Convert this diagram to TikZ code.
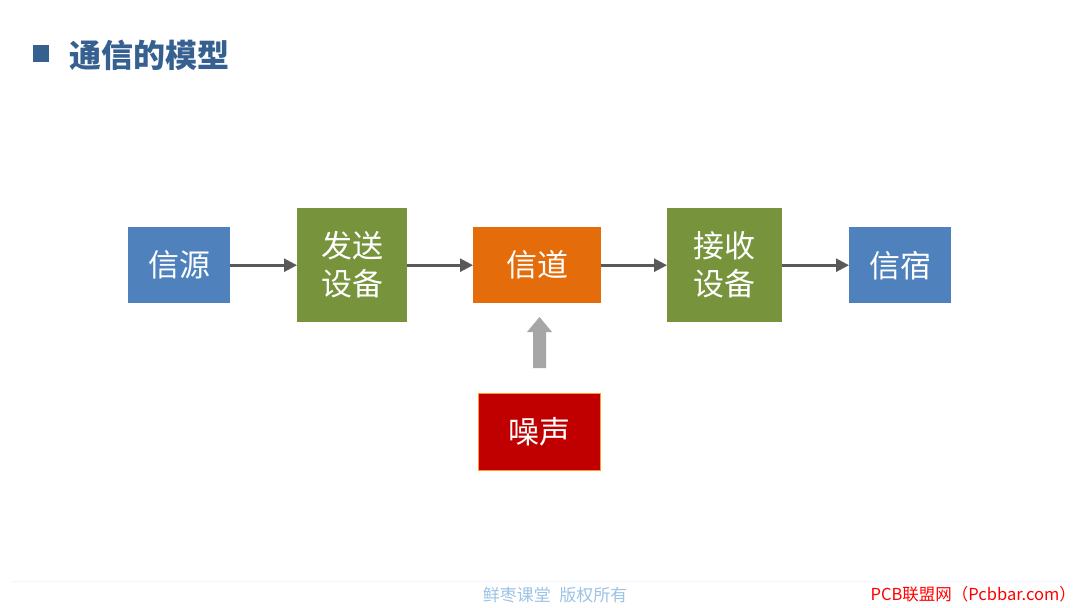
\documentclass[tikz,border=0pt]{standalone}
\usepackage{fontspec}
\newfontfamily\cjk{Noto Sans CJK SC}
\usetikzlibrary{arrows.meta,shapes.arrows}
\definecolor{cblue}{HTML}{4F81BD}
\definecolor{cgreen}{HTML}{77933C}
\definecolor{corange}{HTML}{E46C0A}
\definecolor{cred}{HTML}{C00000}
\definecolor{ctitle}{HTML}{35608F}
\definecolor{carrow}{HTML}{595959}
\definecolor{cnoise}{HTML}{A6A6A6}
\definecolor{cfoot}{HTML}{9DC3E6}
\begin{document}
\begin{tikzpicture}[x=1pt,y=-1pt,
  blk/.style={draw=none,text=white,font=\cjk\fontsize{31}{38}\selectfont,align=center,inner sep=0pt,anchor=north west},
  conn/.style={draw=carrow,line width=2.6pt,-{Triangle[length=13pt,width=13pt]}}]
\useasboundingbox (0,0) rectangle (1080,608);
\fill[white] (0,0) rectangle (1080,608);
% title
\fill[ctitle] (33,45) rectangle (49,62);
\node[anchor=west,text=ctitle,font=\cjk\bfseries\fontsize{32}{36}\selectfont,inner sep=0pt] (title) at (69,55) {通信的模型};
% boxes
\node[blk,fill=cblue,minimum width=102pt,minimum height=76pt] (src) at (128,227) {信源};
\node[blk,fill=cgreen,minimum width=110pt,minimum height=114pt] (tx) at (297,208) {发送\\设备};
\node[blk,fill=corange,minimum width=128pt,minimum height=76pt] (ch) at (473,227) {信道};
\node[blk,fill=cgreen,minimum width=115pt,minimum height=114pt] (rx) at (667,208) {接收\\设备};
\node[blk,fill=cblue,minimum width=102pt,minimum height=76pt] (dst) at (849,227) {信宿};
\node[blk,fill=cred,draw=orange!80,line width=0.6pt,minimum width=122pt,minimum height=77pt] (noise) at (478,393) {噪声};
% connectors
\draw[conn] (src.east) -- (tx.west);
\draw[conn] (tx.east) -- (ch.west);
\draw[conn] (ch.east) -- (rx.west);
\draw[conn] (rx.east) -- (dst.west);
% noise arrow
\fill[cnoise] (533,368) -- (533,332) -- (527,332) -- (539.5,317) -- (552,332) -- (546,332) -- (546,368) -- cycle;
% footer
\draw[color=blue!4,line width=1pt] (12,581) -- (1070,581);
\node[text=cfoot,font=\cjk\fontsize{17}{18}\selectfont,inner sep=0pt] (foot) at (555,595) {鲜枣课堂\hspace{0.5em}版权所有};
\node[text=red,font=\cjk\fontsize{16.5}{18}\selectfont,inner sep=0pt,anchor=east] (pcb) at (1076,594) {PCB联盟网（Pcbbar.com）};
\end{tikzpicture}
\end{document}
